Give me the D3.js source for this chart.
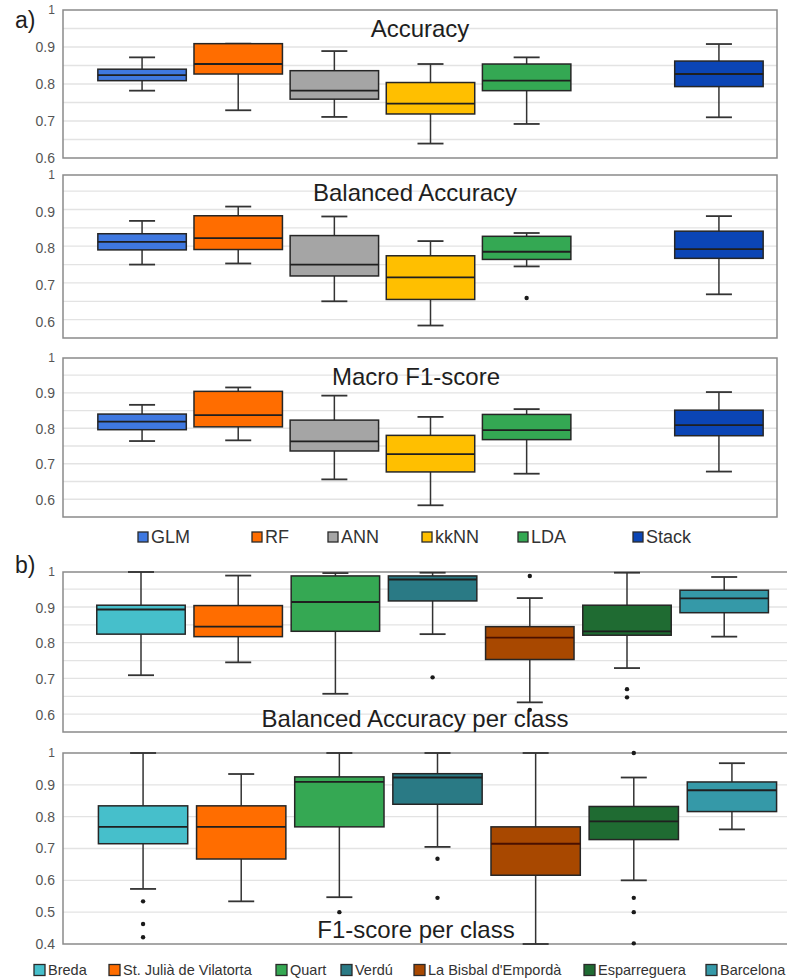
<!DOCTYPE html>
<html><head><meta charset="utf-8">
<script src="https://cdn.jsdelivr.net/npm/d3@7"></script>
<style>body{margin:0;background:#fff}svg{display:block;font-family:"Liberation Sans",Arial,sans-serif}</style>
</head><body><svg id="c" width="787" height="978"></svg>
<script>
// ---------- DATA ----------
const methods = ["GLM","RF","ANN","kkNN","LDA","Stack"];
const sites = ["Breda","St. Julià de Vilatorta","Quart","Verdú","La Bisbal d'Empordà","Esparreguera","Barcelona"];
// each box: [lower whisker, Q1, median, Q3, upper whisker]
const accuracy = [[0.782,0.809,0.824,0.840,0.872],[0.729,0.827,0.854,0.909,0.909],[0.711,0.759,0.782,0.836,0.889],[0.639,0.719,0.747,0.804,0.854],[0.692,0.782,0.809,0.854,0.872],[0.710,0.793,0.827,0.862,0.908]];
const accuracyOut = [[],[],[],[],[],[]];
const balAcc = [[0.756,0.796,0.818,0.840,0.875],[0.759,0.797,0.828,0.889,0.914],[0.656,0.725,0.756,0.835,0.887],[0.590,0.661,0.721,0.780,0.820],[0.751,0.770,0.791,0.833,0.842],[0.675,0.773,0.798,0.847,0.888]];
const balAccOut = [[],[],[],[],[0.665],[]];
const macroF1 = [[0.766,0.798,0.821,0.842,0.868],[0.768,0.806,0.839,0.906,0.917],[0.658,0.738,0.765,0.825,0.894],[0.585,0.679,0.729,0.782,0.834],[0.674,0.770,0.797,0.841,0.856],[0.680,0.781,0.811,0.853,0.904]];
const macroF1Out = [[],[],[],[],[],[]];
const balAccClass = [[0.711,0.826,0.895,0.907,1.0],[0.747,0.819,0.847,0.906,0.990],[0.659,0.834,0.916,0.989,0.997],[0.826,0.919,0.979,0.989,0.998],[0.635,0.755,0.816,0.847,0.927],[0.731,0.823,0.834,0.907,0.998],[0.819,0.886,0.926,0.949,0.986]];
const balAccClassOut = [[],[],[],[0.705],[0.989,0.614],[0.672,0.649],[]];
const f1Class = [[0.573,0.715,0.768,0.834,1.0],[0.534,0.667,0.768,0.834,0.934],[0.547,0.768,0.909,0.925,1.0],[0.705,0.839,0.923,0.935,1.0],[0.400,0.616,0.715,0.768,1.0],[0.600,0.728,0.785,0.832,0.923],[0.760,0.816,0.883,0.909,0.968]];
const f1ClassOut = [[0.534,0.463,0.421],[],[0.5],[0.668,0.545],[],[1.0,0.545,0.5,0.402],[]];
const ticksA = [0.6,0.7,0.8,0.9,1];
const ticksB = [0.4,0.5,0.6,0.7,0.8,0.9,1];

// ---------- STYLE ----------
const methodColors = ["#3f78e0","#ff6d00","#a5a5a5","#ffbf00","#34a853","#0b45b5"];
const siteColors = ["#46bfcb","#ff6d00","#35a853","#2a7a85","#a84800","#1f6b32","#3599a8"];
const medianColors = {4:"#4a1000"};

const svg = d3.select("#c");

function panel(o){
  const y = d3.scaleLinear().domain([o.lo,1]).range([o.bottom,o.top]);
  const x = d3.scaleBand().domain(o.cats).range(o.xr).paddingInner(o.pad).paddingOuter(o.pad/2);
  const g = svg.append("g");
  // grid
  const gl = d3.range(o.lo, 1.0001, o.gstep).filter(v=>v>o.lo+1e-6 && v<0.9999);
  g.selectAll(".grid").data(gl).join("line")
    .attr("x1",o.left).attr("x2",o.right).attr("y1",d=>y(d)).attr("y2",d=>y(d))
    .attr("stroke","#e3e3e3").attr("stroke-width",1.3);
  // frame
  g.append("rect").attr("x",o.left).attr("y",o.top).attr("width",o.right-o.left).attr("height",o.bottom-o.top)
    .attr("fill","none").attr("stroke","#8a8a8a").attr("stroke-width",1.5);
  // y axis labels via axis
  const ax = d3.axisLeft(y).tickValues(o.ticks).tickSize(0).tickPadding(8).tickFormat(d=>d===1?"1":d3.format(".1f")(d));
  const axg = g.append("g").attr("transform",`translate(${o.left},0)`).call(ax);
  axg.select(".domain").remove();
  axg.selectAll("text").attr("font-size",14).attr("fill","#555").attr("font-family","Liberation Sans, Arial, sans-serif");
  axg.selectAll(".tick").filter(d=>d===1).select("text").attr("font-size",12);
  // title
  g.append("text").attr("x",o.tx).attr("y",o.ty).attr("text-anchor","middle").attr("font-size",24).attr("fill","#1e1e1e").text(o.title);
  // boxes
  o.stats.forEach((s,i)=>{
    const cx = x(o.keys[i]) + x.bandwidth()/2, bw = x.bandwidth(), cap = 13;
    const bg = g.append("g");
    bg.append("line").attr("x1",cx).attr("x2",cx).attr("y1",y(s[0])).attr("y2",y(s[1])).attr("stroke","#333").attr("stroke-width",1.5);
    bg.append("line").attr("x1",cx).attr("x2",cx).attr("y1",y(s[3])).attr("y2",y(s[4])).attr("stroke","#333").attr("stroke-width",1.5);
    [s[0],s[4]].forEach(v=>bg.append("line").attr("x1",cx-cap).attr("x2",cx+cap).attr("y1",y(v)).attr("y2",y(v)).attr("stroke","#333").attr("stroke-width",1.8));
    bg.append("rect").attr("x",cx-bw/2).attr("width",bw).attr("y",y(s[3])).attr("height",y(s[1])-y(s[3]))
      .attr("fill",o.colors[i]).attr("stroke","#262626").attr("stroke-width",1.5);
    bg.append("line").attr("x1",cx-bw/2).attr("x2",cx+bw/2).attr("y1",y(s[2])).attr("y2",y(s[2]))
      .attr("stroke",(o.medc && o.medc[i])||"#1f1f1f").attr("stroke-width",1.8);
    bg.selectAll("circle").data(o.out[i]).join("circle").attr("cx",cx).attr("cy",d=>y(d)).attr("r",2.2).attr("fill","#1a1a1a");
  });
}

const catsA = ["GLM","RF","ANN","kkNN","LDA","_","Stack"];
const keysA = methods;
const common = {cats:catsA, keys:keysA, xr:[94,767], pad:0.08, left:63, right:777, colors:methodColors, gstep:0.05, ticks:ticksA};
panel({...common, lo:0.6, top:10, bottom:158, stats:accuracy, out:accuracyOut, title:"Accuracy", tx:420, ty:37});
panel({...common, lo:0.556, top:175, bottom:338, stats:balAcc, out:balAccOut, title:"Balanced Accuracy", tx:415, ty:201});
panel({...common, lo:0.552, top:358, bottom:517, stats:macroF1, out:macroF1Out, title:"Macro F1-score", tx:416, ty:385});
panel({cats:sites, keys:sites, xr:[92.4,772.8], pad:0.09, left:63, right:790, colors:siteColors, medc:medianColors, gstep:0.05, ticks:ticksA,
  lo:0.552, top:572, bottom:732, stats:balAccClass, out:balAccClassOut, title:"Balanced Accuracy per class", tx:415, ty:727});
panel({cats:sites, keys:sites, xr:[94,781], pad:0.09, left:63, right:790, colors:siteColors, medc:medianColors, gstep:0.1, ticks:ticksB,
  lo:0.4, top:753, bottom:944, stats:f1Class, out:f1ClassOut, title:"F1-score per class", tx:416, ty:938});

// panel letters
svg.append("text").attr("x",15).attr("y",28).attr("font-size",23).attr("fill","#1e1e1e").text("a)");
svg.append("text").attr("x",15).attr("y",573).attr("font-size",23).attr("fill","#1e1e1e").text("b)");

// legends
function legend(names, colors, xs, yc, size, fs){
  const lg = svg.append("g");
  names.forEach((n,i)=>{
    lg.append("rect").attr("x",xs[i]).attr("y",yc-size/2).attr("width",size).attr("height",size)
      .attr("fill",colors[i]).attr("stroke","#2a2a2a").attr("stroke-width",1.3);
    lg.append("text").attr("x",xs[i]+size+3).attr("y",yc+fs*0.36).attr("font-size",fs).attr("fill","#333").text(n);
  });
}
legend(methods, methodColors, [138,252,328,422,518,633], 537, 10, 18);
legend(sites, siteColors, [34,109,276,341,414,584,706], 970, 11, 14.5);
</script></body></html>
